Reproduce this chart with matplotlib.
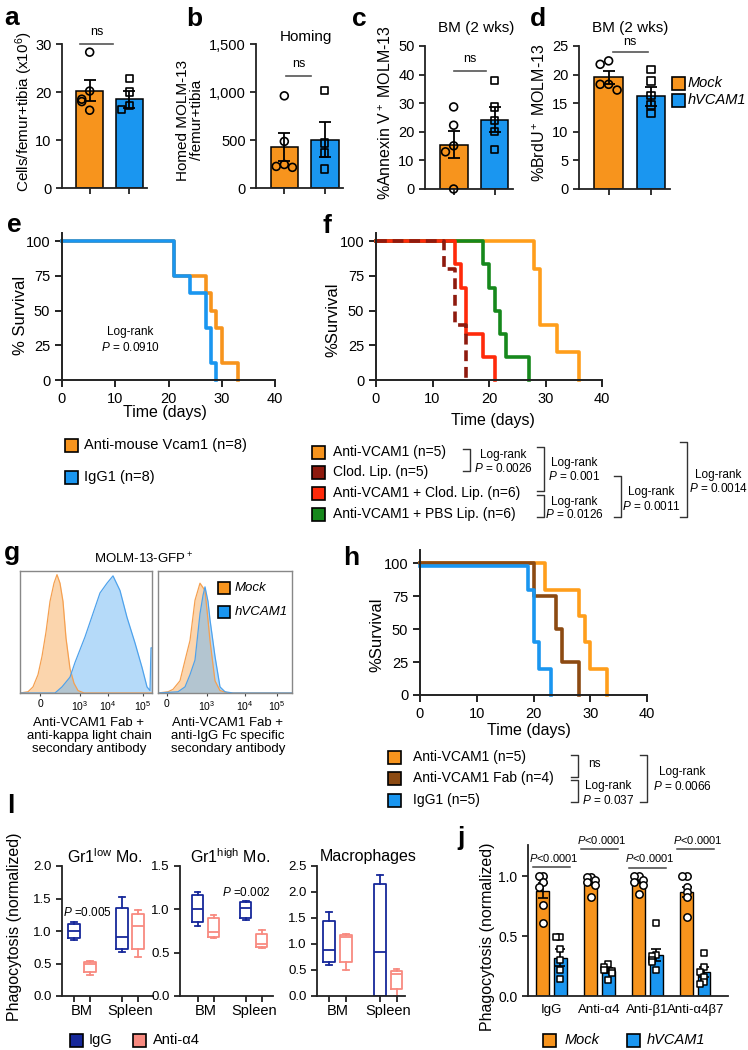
import numpy as np
import matplotlib
matplotlib.use('Agg')
import matplotlib.pyplot as plt
from matplotlib.patches import Rectangle

plt.rcParams['font.family'] = ['Liberation Sans', 'DejaVu Sans']
plt.rcParams['mathtext.fontset'] = 'custom'
plt.rcParams['mathtext.rm'] = 'Liberation Sans'
plt.rcParams['mathtext.it'] = 'Liberation Sans:italic'
plt.rcParams['mathtext.bf'] = 'Liberation Sans:bold'
plt.rcParams['axes.linewidth'] = 1.3
plt.rcParams['axes.edgecolor'] = '#222222'

W, H = 748, 1050
ORANGE = '#F7941D'
BLUE = '#1A96F0'
RED = '#FF2A0A'
DARKRED = '#8E1A0E'
GREEN = '#16881C'
BROWN = '#8C4A12'
NAVY = '#16289A'
PINK = '#F88A80'

# ---------------- data ----------------
# a-d: bar mean, sem and individual points (Mock, hVCAM1)
a_mean, a_sem = [20.3, 18.5], [2.1, 1.8]
a_mock = [28.3, 20.2, 18.5, 18.0, 16.2]
a_hv = [22.8, 20.0, 17.2, 16.3]

b_mean, b_sem = [425, 505], [145, 180]
b_mock = [960, 485, 245, 225, 215]
b_hv = [1017, 469, 365, 198]

c_mean, c_sem = [15.5, 24.2], [4.8, 4.4]
c_mock = [28.7, 22.3, 15.1, 13.0, 0.0]
c_hv = [38.0, 28.7, 24.0, 20.0, 13.8]

d_mean, d_sem = [19.5, 16.2], [1.1, 1.7]
d_mock = [22.4, 21.8, 18.3, 18.3, 17.3]
d_hv = [20.9, 18.9, 16.3, 14.7, 13.2]

# e: Kaplan-Meier steps (days, % survival)
e_anti_t = [0, 21, 27, 28, 29, 30, 33]
e_anti_s = [100, 75, 62.5, 50, 37.5, 12.5, 0]
e_igg_t = [0, 21, 24, 27, 28, 29]
e_igg_s = [100, 75, 62.5, 37.5, 12.5, 0]

# f
f_anti_t = [0, 28, 29, 32, 36]
f_anti_s = [100, 80, 40, 20, 0]
f_clod_t = [0, 12, 14, 16]
f_clod_s = [100, 80, 40, 0]
f_anticlod_t = [0, 14, 15, 16, 19, 21]
f_anticlod_s = [100, 83.3, 66.7, 33.3, 16.7, 0]
f_antipbs_t = [0, 19, 20, 21, 22, 23, 27]
f_antipbs_s = [100, 83.3, 66.7, 50, 33.3, 16.7, 0]

# h
h_anti_t = [0, 22, 28, 29, 30, 33]
h_anti_s = [100, 80, 60, 40, 20, 0]
h_fab_t = [0, 20, 24, 25, 28]
h_fab_s = [100, 75, 50, 25, 0]
h_igg_t = [0, 19, 20, 21, 23]
h_igg_s = [100, 80, 40, 20, 0]

# g: histogram outlines (display channel, normalised count)
g1_mock_x = [0, 8, 13, 18, 22, 26, 30, 34, 37, 40, 43, 46, 50, 54, 58, 64, 132]
g1_mock_y = [0, 0.01, 0.05, 0.15, 0.3, 0.5, 0.75, 0.9, 0.97, 0.9, 0.75, 0.45, 0.2, 0.08, 0.02, 0, 0]
g1_hv_x = [0, 35, 42, 50, 55, 65, 75, 80, 87, 93, 100, 107, 115, 122, 127, 130, 131, 132]
g1_hv_y = [0, 0, 0.05, 0.13, 0.25, 0.46, 0.7, 0.82, 0.9, 0.96, 0.84, 0.62, 0.41, 0.21, 0.05, 0.02, 0.37, 0.37]
g2_mock_x = [0, 10, 15, 22, 28, 32, 37, 42, 47, 50, 52, 57, 62, 70, 134]
g2_mock_y = [0, 0.01, 0.03, 0.1, 0.3, 0.43, 0.76, 0.9, 0.84, 0.6, 0.43, 0.1, 0.02, 0, 0]
g2_hv_x = [0, 20, 27, 32, 37, 42, 45, 47, 50, 52, 57, 62, 67, 75, 134]
g2_hv_y = [0, 0.01, 0.05, 0.15, 0.27, 0.65, 0.8, 0.87, 0.75, 0.6, 0.3, 0.05, 0.01, 0, 0]
g_tick_labels = ['0', '10$^3$', '10$^4$', '10$^5$']
g1_ticks = [20, 60, 88, 123]
g2_ticks = [9, 49, 87, 119]

# l: box stats (whislo, q1, med, q3, whishi) for BM IgG, BM anti, Spleen IgG, Spleen anti
gr1low_boxes = [[0.86, 0.90, 1.00, 1.11, 1.14], [0.32, 0.37, 0.50, 0.52, 0.54],
                [0.67, 0.73, 0.91, 1.36, 1.53], [0.60, 0.72, 1.07, 1.26, 1.32]]
gr1high_boxes = [[0.81, 0.85, 1.00, 1.16, 1.20], [0.67, 0.68, 0.74, 0.90, 0.94],
                 [0.88, 0.90, 1.01, 1.09, 1.10], [0.55, 0.57, 0.60, 0.72, 0.76]]
mac_boxes = [[0.60, 0.66, 0.89, 1.45, 1.61], [0.50, 0.66, 1.14, 1.18, 1.20],
             [0.00, 0.00, 0.84, 2.15, 2.33], [0.00, 0.13, 0.42, 0.48, 0.52]]

# j
j_labels = ['IgG', 'Anti-α4', 'Anti-β1', 'Anti-α4β7']
j_mock_mean = [0.88, 0.95, 0.96, 0.87]
j_mock_sem = [0.06, 0.02, 0.02, 0.04]
j_hv_mean = [0.32, 0.21, 0.34, 0.20]
j_hv_sem = [0.07, 0.02, 0.05, 0.04]
j_mock_pts = [[1.0, 1.0, 0.95, 0.91, 0.76, 0.61], [0.99, 0.99, 0.97, 0.95, 0.93, 0.83],
              [1.0, 1.0, 0.97, 0.95, 0.93, 0.85], [1.0, 1.0, 0.91, 0.87, 0.83, 0.66]]
j_hv_pts = [[0.49, 0.49, 0.39, 0.30, 0.22, 0.14], [0.27, 0.24, 0.22, 0.21, 0.19, 0.13],
            [0.61, 0.34, 0.33, 0.30, 0.28, 0.22], [0.36, 0.24, 0.20, 0.16, 0.12, 0.10]]
j_sig_y = [1.075, 1.225, 1.07, 1.225]


def rect(x0, y0, x1, y1):
    return [x0 / W, 1 - y1 / H, (x1 - x0) / W, (y1 - y0) / H]


def jitter(vals, tol, step):
    offs = []
    for i, v in enumerate(vals):
        k = sum(1 for w in vals[:i] if abs(v - w) < tol)
        sign = -1 if k % 2 else 1
        offs.append(sign * ((k + 1) // 2) * step)
    return np.array(offs)


def clean(ax):
    ax.spines['top'].set_visible(False)
    ax.spines['right'].set_visible(False)
    ax.tick_params(direction='out', width=1.3, length=4, color='#222222')


fig = plt.figure(figsize=(W / 100, H / 100), dpi=100)


def bar_panel(r, means, sems, mock, hv, top, yticks, ylabels=None):
    ax = fig.add_axes(rect(*r))
    ax.bar([0, 1], means, width=0.68, color=[ORANGE, BLUE], edgecolor='black', linewidth=1.1, zorder=2)
    ax.errorbar([0, 1], means, yerr=sems, fmt='none', ecolor='black', elinewidth=1.3,
                capsize=4.5, capthick=1.3, zorder=3)
    tol = top * 0.06
    ax.scatter(jitter(mock, tol, 0.2), mock, marker='o', s=32, facecolor='none',
               edgecolor='black', linewidth=1.2, zorder=4, clip_on=False)
    ax.scatter(1 + jitter(hv, tol, 0.2), hv, marker='s', s=28, facecolor='none',
               edgecolor='black', linewidth=1.2, zorder=4, clip_on=False)
    ax.set_xlim(-0.7, 1.45)
    ax.set_ylim(0, top)
    ax.set_xticks([0, 1], ['', ''])
    ax.set_yticks(yticks, ylabels if ylabels else [str(t) for t in yticks])
    clean(ax)
    ax.tick_params(labelsize=10.5)
    return ax


ax_a = bar_panel((62, 44, 147, 188), a_mean, a_sem, a_mock, a_hv, 30, [0, 10, 20, 30])
ax_a.plot([-0.25, 0.6], [30, 30], color='#555555', lw=1.2, clip_on=False)
ax_a.text(0.18, 31.2, 'ns', ha='center', va='bottom', fontsize=9)

ax_b = bar_panel((256, 44, 343, 188), b_mean, b_sem, b_mock, b_hv, 1500, [0, 500, 1000, 1500],
                 ['0', '500', '1,000', '1,500'])
ax_b.plot([0.05, 0.65], [1165, 1165], color='#555555', lw=1.2)
ax_b.text(0.35, 1230, 'ns', ha='center', va='bottom', fontsize=9)

ax_c = bar_panel((425, 46, 513, 189), c_mean, c_sem, c_mock, c_hv, 50, [0, 10, 20, 30, 40, 50])
ax_c.plot([0.0, 0.8], [41.3, 41.3], color='#555555', lw=1.2)
ax_c.text(0.4, 43.5, 'ns', ha='center', va='bottom', fontsize=9)

ax_d = bar_panel((579, 46, 670, 189), d_mean, d_sem, d_mock, d_hv, 25, [0, 5, 10, 15, 20, 25])
ax_d.plot([0.1, 0.92], [24, 24], color='#555555', lw=1.2, clip_on=False)
ax_d.text(0.5, 24.6, 'ns', ha='center', va='bottom', fontsize=9)


def km_axes(r, top):
    ax = fig.add_axes(rect(*r))
    ax.set_xlim(0, 40)
    ax.set_ylim(0, top)
    ax.set_xticks([0, 10, 20, 30, 40])
    ax.set_yticks([0, 25, 50, 75, 100])
    clean(ax)
    ax.tick_params(labelsize=10.5, width=1.4, length=5)
    ax.spines['left'].set_linewidth(1.4)
    ax.spines['bottom'].set_linewidth(1.4)
    return ax


ax_e = km_axes((62, 233, 275, 380), 106)
ax_e.step(e_anti_t, e_anti_s, where='post', color=ORANGE, lw=2.6, clip_on=False)
ax_e.step(e_igg_t, e_igg_s, where='post', color=BLUE, lw=2.6, clip_on=False)
ax_e.text(12.8, 29, 'Log-rank\n$P$ = 0.0910', ha='center', va='center', fontsize=8.5, linespacing=1.3)

ax_f = km_axes((376, 233, 602, 380), 106)
ax_f.step(f_anti_t, f_anti_s, where='post', color='#FF9E1B', lw=2.6, clip_on=False)
ax_f.step(f_antipbs_t, f_antipbs_s, where='post', color=GREEN, lw=2.6, clip_on=False)
ax_f.step(f_anticlod_t, f_anticlod_s, where='post', color=RED, lw=2.6, clip_on=False)
ax_f.step(f_clod_t, f_clod_s, where='post', color=DARKRED, lw=2.6, ls=(0, (3, 1.6)), clip_on=False)

ax_h = km_axes((420, 550, 647, 695), 110)
ax_h.step(h_anti_t, h_anti_s, where='post', color='#FF9E1B', lw=2.6, clip_on=False)
ax_h.step(h_fab_t, h_fab_s, where='post', color=BROWN, lw=2.6, clip_on=False)
ax_h.step(h_igg_t, [s - 2 for s in h_igg_s[:1]] + h_igg_s[1:], where='post', color=BLUE, lw=2.6, clip_on=False)


# g histograms
def hist_axes(r, mx, my, hx, hy, ticks, width):
    ax = fig.add_axes(rect(*r))
    ax.fill_between(mx, my, color='#F9B46A', alpha=0.55, lw=0)
    ax.plot(mx, my, color='#F5A050', lw=0.9)
    ax.fill_between(hx, hy, color='#6DB6F4', alpha=0.5, lw=0)
    ax.plot(hx, hy, color='#4EA2EC', lw=0.9)
    ax.set_xlim(0, width)
    ax.set_ylim(0, 1.0)
    ax.set_yticks([])
    ax.set_xticks(ticks, g_tick_labels)
    ax.tick_params(labelsize=7.5, length=2.5, width=0.8, pad=2, color='#444444')
    for s in ax.spines.values():
        s.set_color('#888888')
        s.set_linewidth(1.0)
    return ax


hist_axes((20, 571, 152, 693), g1_mock_x, g1_mock_y, g1_hv_x, g1_hv_y, g1_ticks, 132)
hist_axes((158, 571, 292, 693), g2_mock_x, g2_mock_y, g2_hv_x, g2_hv_y, g2_ticks, 134)


# l box plots
def box_axes(r, boxes, top, yticks, xlim):
    ax = fig.add_axes(rect(*r))
    stats = [dict(whislo=b[0], q1=b[1], med=b[2], q3=b[3], whishi=b[4], fliers=[]) for b in boxes]
    art = ax.bxp(stats, positions=[1, 2, 4, 5], widths=0.7, capwidths=0.35, showfliers=False)
    cols = [NAVY, PINK, NAVY, PINK]
    for i, c in enumerate(cols):
        art['boxes'][i].set(color=c, lw=1.3)
        art['medians'][i].set(color=c, lw=1.3)
        for k in (2 * i, 2 * i + 1):
            art['whiskers'][k].set(color=c, lw=1.3)
            art['caps'][k].set(color=c, lw=1.3)
    ax.set_xlim(*xlim)
    ax.set_ylim(0, top)
    ax.set_yticks(yticks, ['%.1f' % t for t in yticks])
    ax.set_xticks([1, 2, 4, 5], ['', '', '', ''])
    ax.set_xticks([1.5, 4.5], ['BM', 'Spleen'], minor=True)
    clean(ax)
    ax.tick_params(labelsize=9.5)
    ax.tick_params(axis='x', which='minor', length=0, labelsize=10.5, pad=6)
    return ax


ax_l1 = box_axes((62, 866, 153, 996), gr1low_boxes, 2.0, [0, 0.5, 1.0, 1.5, 2.0], (0.25, 5.94))
ax_l1.text(0.3, 1.28, '$P$ =0.005', ha='left', va='center', fontsize=8.5)
ax_l2 = box_axes((180, 866, 273, 996), gr1high_boxes, 1.5, [0, 0.5, 1.0, 1.5], (-0.1, 5.7))
ax_l2.text(2.55, 1.2, '$P$ =0.002', ha='left', va='center', fontsize=8.5)
ax_l3 = box_axes((317, 866, 405, 996), mac_boxes, 2.5, [0, 0.5, 1.0, 1.5, 2.0, 2.5], (0.3, 5.5))

# j
ax_j = fig.add_axes(rect(528, 845, 728, 996))
xg = np.arange(len(j_labels))
ax_j.bar(xg - 0.18, j_mock_mean, width=0.27, color=ORANGE, edgecolor='black', lw=1.0, zorder=2)
ax_j.bar(xg + 0.18, j_hv_mean, width=0.27, color=BLUE, edgecolor='black', lw=1.0, zorder=2)
ax_j.errorbar(xg - 0.18, j_mock_mean, yerr=j_mock_sem, fmt='none', ecolor='black', elinewidth=1.2,
              capsize=3.5, capthick=1.2, zorder=3)
ax_j.errorbar(xg + 0.18, j_hv_mean, yerr=j_hv_sem, fmt='none', ecolor='black', elinewidth=1.2,
              capsize=3.5, capthick=1.2, zorder=3)
for i in range(len(j_labels)):
    ax_j.scatter(xg[i] - 0.18 + jitter(j_mock_pts[i], 0.04, 0.09), j_mock_pts[i], marker='o', s=28,
                 facecolor='white', edgecolor='black', lw=1.1, zorder=4)
    ax_j.scatter(xg[i] + 0.18 + jitter(j_hv_pts[i], 0.04, 0.09), j_hv_pts[i], marker='s', s=24,
                 facecolor='white', edgecolor='black', lw=1.1, zorder=4)
    ax_j.plot([xg[i] - 0.38, xg[i] + 0.38], [j_sig_y[i]] * 2, color='#444444', lw=1.1, clip_on=False)
    ax_j.text(xg[i] + 0.05, j_sig_y[i] + 0.03, '$P$<0.0001', ha='center', va='bottom', fontsize=8,
              clip_on=False)
ax_j.set_xlim(-0.49, 3.68)
ax_j.set_ylim(0, 1.26)
ax_j.set_yticks([0, 0.5, 1.0], ['0.0', '0.5', '1.0'])
ax_j.set_xticks(xg, j_labels)
clean(ax_j)
ax_j.tick_params(labelsize=10)
ax_j.tick_params(axis='x', length=0, pad=6, labelsize=9.5)

# ---------------- overlay: letters, labels, legends, brackets ----------------
ov = fig.add_axes([0, 0, 1, 1], zorder=10)
ov.set_xlim(0, W)
ov.set_ylim(H, 0)
ov.axis('off')
ov.patch.set_alpha(0)


def t(x, y, s, **kw):
    kw.setdefault('fontsize', 10)
    kw.setdefault('va', 'center')
    ov.text(x, y, s, **kw)


def key(x, y, color, size=13):
    ov.add_patch(Rectangle((x, y - size / 2), size, size, facecolor=color, edgecolor='black', lw=1.2))


def bracket(x, y0, y1, arm=7):
    ov.plot([x - arm, x, x, x - arm], [y0, y0, y1, y1], color='#333333', lw=1.0)


for letter, x, y in [('a', 4, 25), ('b', 186, 26), ('c', 352, 26), ('d', 530, 26), ('e', 7, 232),
                     ('f', 323, 233), ('g', 4, 560), ('h', 343, 565), ('l', 7, 813), ('j', 457, 845)]:
    t(x, y, letter, fontsize=19, fontweight='bold', va='baseline')

# y labels
t(24, 112, 'Cells/femur+tibia (x10$^6$)', rotation=90, ha='center', fontsize=11)
t(190, 120, 'Homed MOLM-13\n/femur+tibia', rotation=90, ha='center', fontsize=11, linespacing=0.95)
t(386, 113, '%Annexin V$^+$ MOLM-13', rotation=90, ha='center', fontsize=11.5)
t(540, 113, '%BrdU$^+$ MOLM-13', rotation=90, ha='center', fontsize=11.5)
t(21, 315, '% Survival', rotation=90, ha='center', fontsize=12)
t(333, 320, '%Survival', rotation=90, ha='center', fontsize=12)
t(377, 635, '%Survival', rotation=90, ha='center', fontsize=12)
t(15, 927, 'Phagocytosis (normalized)', rotation=90, ha='center', fontsize=11.5)
t(488, 937, 'Phagocytosis (normalized)', rotation=90, ha='center', fontsize=11.5)

# x labels / titles
t(165, 412, 'Time (days)', ha='center', fontsize=11.5)
t(493, 421, 'Time (days)', ha='center', fontsize=11.5)
t(529, 730, 'Time (days)', ha='center', fontsize=11.5)
t(306, 37, 'Homing', ha='center', fontsize=11)
t(476, 28, 'BM (2 wks)', ha='center', fontsize=11)
t(630, 28, 'BM (2 wks)', ha='center', fontsize=11)
t(105, 857, r'Gr1$^{\mathrm{low}}$ Mo.', ha='center', fontsize=11.5)
t(230, 857, r'Gr1$^{\mathrm{high}}$ Mo.', ha='center', fontsize=11.5)
t(368, 857, 'Macrophages', ha='center', fontsize=11.5)
t(144, 559, 'MOLM-13-GFP$^+$', ha='center', fontsize=9.5)
t(89, 736, 'Anti-VCAM1 Fab +\nanti-kappa light chain\nsecondary antibody', ha='center', fontsize=9.5,
  linespacing=1.15)
t(228, 736, 'Anti-VCAM1 Fab +\nanti-IgG Fc specific\nsecondary antibody', ha='center', fontsize=9.5,
  linespacing=1.15)

# d legend
key(672, 83, ORANGE)
t(688, 83, 'Mock', style='italic', fontsize=10.5)
key(672, 100, BLUE)
t(688, 100, 'hVCAM1', style='italic', fontsize=10.5)

# e legend
key(65, 445, ORANGE)
t(84, 445, 'Anti-mouse Vcam1 (n=8)', fontsize=10.5)
key(65, 477, BLUE)
t(84, 477, 'IgG1 (n=8)', fontsize=10.5)

# f legend and log-rank brackets
f_rows = [452, 472, 493, 514]
for y, c, s in zip(f_rows, [ORANGE, DARKRED, RED, GREEN],
                   ['Anti-VCAM1 (n=5)', 'Clod. Lip. (n=5)', 'Anti-VCAM1 + Clod. Lip. (n=6)',
                    'Anti-VCAM1 + PBS Lip. (n=6)']):
    key(312, y, c)
    t(333, y, s, fontsize=10)
bracket(470, 449, 471)
t(503, 455, 'Log-rank', ha='center', fontsize=8.5)
t(503, 469, '$P$ = 0.0026', ha='center', fontsize=8.5)
bracket(544, 447, 491)
t(574, 463, 'Log-rank', ha='center', fontsize=8.5)
t(574, 477, '$P$ = 0.001', ha='center', fontsize=8.5)
bracket(544, 495, 517)
t(574, 502, 'Log-rank', ha='center', fontsize=8.5)
t(574, 515, '$P$ = 0.0126', ha='center', fontsize=8.5)
bracket(621, 476, 517)
t(651, 492, 'Log-rank', ha='center', fontsize=8.5)
t(651, 506, '$P$ = 0.0011', ha='center', fontsize=8.5)
bracket(687, 442, 517)
t(718, 475, 'Log-rank', ha='center', fontsize=8.5)
t(718, 489, '$P$ = 0.0014', ha='center', fontsize=8.5)

# g legend
key(218, 588, ORANGE, 12)
t(235, 588, 'Mock', style='italic', fontsize=9.5)
key(218, 612, BLUE, 12)
t(235, 612, 'hVCAM1', style='italic', fontsize=9.5)

# h legend
h_rows = [757, 778, 800]
for y, c, s in zip(h_rows, [ORANGE, BROWN, BLUE], ['Anti-VCAM1 (n=5)', 'Anti-VCAM1 Fab (n=4)', 'IgG1 (n=5)']):
    key(388, y, c)
    t(413, y, s, fontsize=10)
bracket(578, 755, 777)
t(588, 764, 'ns', fontsize=8.5)
bracket(578, 780, 802)
t(608, 786, 'Log-rank', ha='center', fontsize=8.5)
t(608, 800, '$P$ = 0.037', ha='center', fontsize=8.5)
bracket(647, 755, 802)
t(682, 772, 'Log-rank', ha='center', fontsize=8.5)
t(682, 786, '$P$ = 0.0066', ha='center', fontsize=8.5)

# l legend
key(70, 1040, NAVY)
t(89, 1040, 'IgG', fontsize=10.5)
key(133, 1040, PINK)
t(153, 1040, 'Anti-α4', fontsize=10.5)

# j legend
key(543, 1040, ORANGE)
t(565, 1040, 'Mock', style='italic', fontsize=10.5)
key(627, 1040, BLUE)
t(647, 1040, 'hVCAM1', style='italic', fontsize=10.5)

fig.savefig('out.png', dpi=100)
